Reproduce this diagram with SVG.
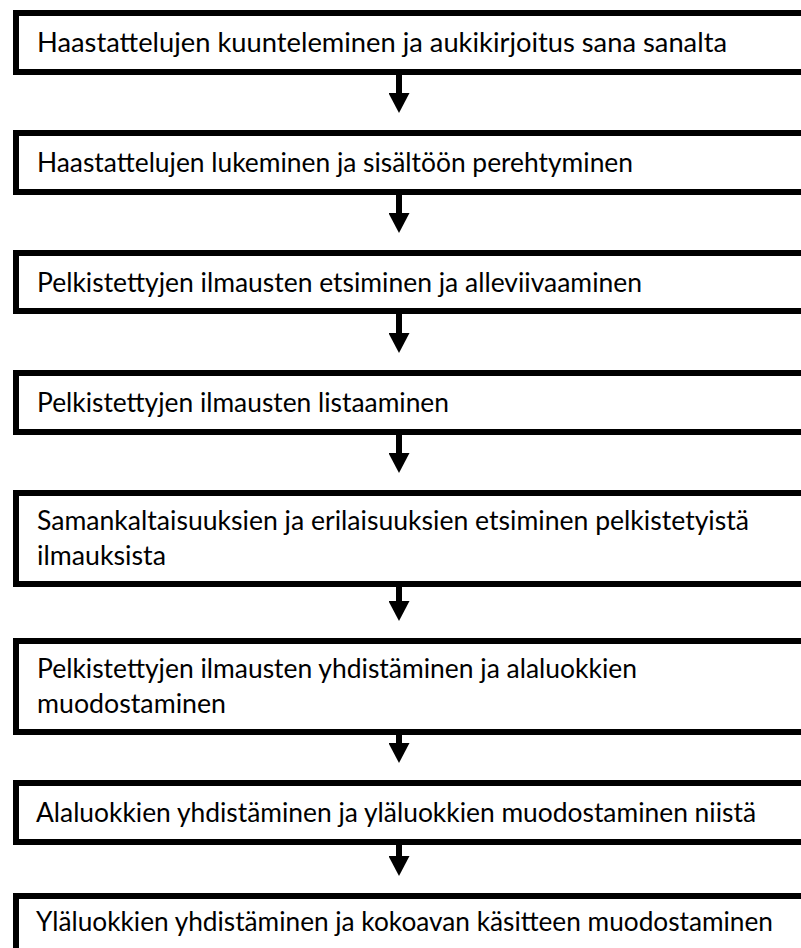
<svg xmlns="http://www.w3.org/2000/svg" width="801" height="948" viewBox="0 0 801 948">
<style>
.box{fill:#fff;stroke:#000;stroke-width:6}
.lbl{font-family:"Lato","Liberation Sans",sans-serif;font-size:26px;fill:#000}
.conn{stroke:#000;stroke-width:6;fill:none}
</style>
<defs>
<marker id="ah" markerUnits="userSpaceOnUse" viewBox="0 -10.5 20 21" refX="0" refY="0" markerWidth="20" markerHeight="21" orient="auto">
<path d="M0,-10.5 L20,0 L0,10.5 z" fill="#000"/>
</marker>
</defs>
<rect width="801" height="948" fill="#fff"/>
<g id="connectors">
<line class="conn" x1="399" y1="75" x2="399" y2="93" marker-end="url(#ah)"/>
<line class="conn" x1="399" y1="195" x2="399" y2="213" marker-end="url(#ah)"/>
<line class="conn" x1="399" y1="314" x2="399" y2="333" marker-end="url(#ah)"/>
<line class="conn" x1="399" y1="435" x2="399" y2="453" marker-end="url(#ah)"/>
<line class="conn" x1="399" y1="587" x2="399" y2="601" marker-end="url(#ah)"/>
<line class="conn" x1="399" y1="735" x2="399" y2="743" marker-end="url(#ah)"/>
<line class="conn" x1="399" y1="845" x2="399" y2="856" marker-end="url(#ah)"/>
</g>
<g id="n1"><rect class="box" x="16" y="13" width="800" height="59"/><text class="lbl" x="37" y="52" textLength="690" lengthAdjust="spacingAndGlyphs">Haastattelujen kuunteleminen ja aukikirjoitus sana sanalta</text></g>
<g id="n2"><rect class="box" x="16" y="133" width="800" height="59"/><text class="lbl" x="37" y="172" textLength="596" lengthAdjust="spacingAndGlyphs">Haastattelujen lukeminen ja sisältöön perehtyminen</text></g>
<g id="n3"><rect class="box" x="16" y="253" width="800" height="58"/><text class="lbl" x="37" y="292" textLength="605" lengthAdjust="spacingAndGlyphs">Pelkistettyjen ilmausten etsiminen ja alleviivaaminen</text></g>
<g id="n4"><rect class="box" x="16" y="373" width="800" height="59"/><text class="lbl" x="37" y="412" textLength="412" lengthAdjust="spacingAndGlyphs">Pelkistettyjen ilmausten listaaminen</text></g>
<g id="n5"><rect class="box" x="16" y="493" width="800" height="91"/><text class="lbl" x="37" y="530" textLength="712" lengthAdjust="spacingAndGlyphs">Samankaltaisuuksien ja erilaisuuksien etsiminen pelkistetyistä</text><text class="lbl" x="37" y="565" textLength="129" lengthAdjust="spacingAndGlyphs">ilmauksista</text></g>
<g id="n6"><rect class="box" x="16" y="641" width="800" height="91"/><text class="lbl" x="37" y="678" textLength="600" lengthAdjust="spacingAndGlyphs">Pelkistettyjen ilmausten yhdistäminen ja alaluokkien</text><text class="lbl" x="37" y="713" textLength="189" lengthAdjust="spacingAndGlyphs">muodostaminen</text></g>
<g id="n7"><rect class="box" x="16" y="783" width="800" height="59"/><text class="lbl" x="36" y="822" textLength="720" lengthAdjust="spacingAndGlyphs">Alaluokkien yhdistäminen ja yläluokkien muodostaminen niistä</text></g>
<g id="n8"><rect class="box" x="16" y="896" width="800" height="70"/><text class="lbl" x="36" y="931" textLength="737" lengthAdjust="spacingAndGlyphs">Yläluokkien yhdistäminen ja kokoavan käsitteen muodostaminen</text></g>
</svg>
